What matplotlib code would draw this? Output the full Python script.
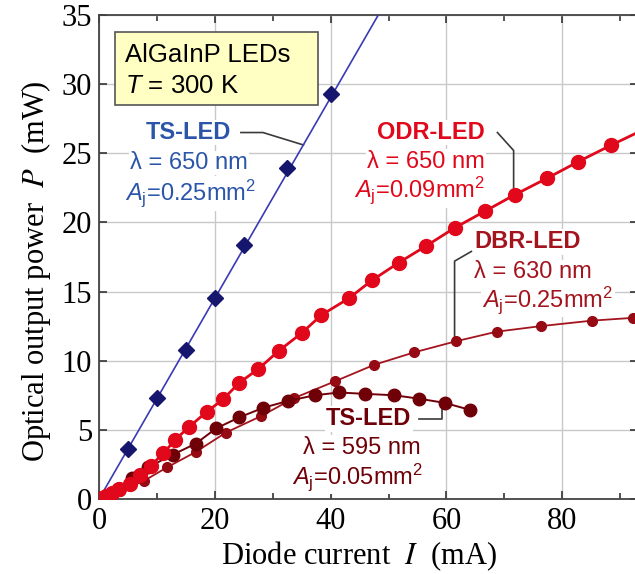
import matplotlib
matplotlib.use("Agg")
import matplotlib.pyplot as plt
from matplotlib.patches import Rectangle

plt.rcParams['mathtext.fontset'] = 'custom'
plt.rcParams['mathtext.rm'] = 'Liberation Sans'
plt.rcParams['mathtext.it'] = 'Liberation Sans:italic'
plt.rcParams['mathtext.bf'] = 'Liberation Sans:bold'

# TS-LED, 650 nm, Aj = 0.25 mm2 (diamonds)
ts650_i = [0, 5, 10, 15, 20, 25, 32.5, 40]
ts650_p = [0, 3.6, 7.3, 10.8, 14.5, 18.4, 23.9, 29.3]
# fitted line of the TS-LED 650 nm
ts650_fit_i = [0, 48.5]
ts650_fit_p = [0, 35.2]

# ODR-LED, 650 nm, Aj = 0.09 mm2
odr_i = [0, 0.5, 1.2, 2.2, 3.5, 5.4, 7.1, 8.9, 11.1, 13.2, 15.5, 18.6, 21.4, 24.2,
         27.5, 31.0, 35.0, 38.4, 43.1, 47.1, 51.8, 56.5, 61.4, 66.6, 71.8, 77.4,
         82.8, 88.5, 93.0]
odr_p = [0, 0.1, 0.25, 0.45, 0.7, 1.1, 1.7, 2.4, 3.3, 4.3, 5.2, 6.3, 7.2, 8.4,
         9.4, 10.7, 12.0, 13.3, 14.5, 15.8, 17.1, 18.3, 19.6, 20.8, 22.0, 23.2,
         24.4, 25.6, 26.5]

# DBR-LED, 630 nm, Aj = 0.25 mm2
dbr_i = [0, 3.7, 7.7, 11.8, 16.7, 21.9, 28.0, 33.7, 40.7, 47.5, 54.4, 61.6, 68.7,
         76.3, 85.2, 92.3, 93.0]
dbr_p = [0, 0.6, 1.3, 2.3, 3.4, 4.8, 6.0, 7.3, 8.5, 9.7, 10.6, 11.4, 12.1, 12.5,
         12.9, 13.1, 13.1]

# TS-LED, 595 nm, Aj = 0.05 mm2
ts595_i = [0, 3.3, 5.7, 8.5, 12.7, 16.7, 20.2, 24.2, 28.4, 32.7, 37.3, 41.4, 46.0,
           51.0, 55.3, 59.7, 64.0]
ts595_p = [0, 0.75, 1.5, 2.3, 3.2, 4.0, 5.1, 5.9, 6.6, 7.1, 7.5, 7.7, 7.6, 7.5,
           7.25, 6.95, 6.45]

c_blue_line = '#3a3ab4'
c_blue_mark = '#16166e'
c_blue_text = '#2b55a8'
c_odr = '#e0081a'
c_dbr = '#a3141e'
c_dbr_mark = '#960a14'
c_ts595 = '#700008'
c_lead = '#3a3a3a'

fig = plt.figure(figsize=(6.35, 5.74), dpi=100)
ax = fig.add_axes([0.156, 0.1307, 0.848, 0.8432])

ax.plot(ts650_fit_i, ts650_fit_p, color=c_blue_line, lw=1.2, zorder=3)
ax.plot(ts650_i[1:], ts650_p[1:], 'D', color=c_blue_mark, ms=8.5, zorder=4)

ax.plot(dbr_i, dbr_p, '-o', color=c_dbr, mfc=c_dbr_mark, mec=c_dbr_mark, ms=7,
        lw=1.3, zorder=3)
ax.plot(ts595_i, ts595_p, '-o', color=c_ts595, ms=9, lw=1.4, zorder=3)
ax.plot(odr_i[:-1], odr_p[:-1], 'o', color=c_odr, ms=10, zorder=4)
ax.plot(odr_i, odr_p, '-', color=c_odr, lw=2, zorder=4)

ax.set_xlim(0, 93)
ax.set_ylim(0, 35)
ax.set_xticks([0, 20, 40, 60, 80])
ax.set_xticks([10, 30, 50, 70, 90], minor=True)
ax.set_yticks([0, 5, 10, 15, 20, 25, 30, 35])
ax.grid(True, which='major', color='#c8c8c8', lw=1)
ax.set_axisbelow(True)
ax.tick_params(which='both', direction='in', top=True, right=True,
               width=1.2, color='#333333')
ax.tick_params(which='major', length=6)
ax.tick_params(which='minor', length=4)
ax.tick_params(axis='y', pad=5)
ax.tick_params(axis='x', pad=6)
for lbl in ax.get_xticklabels() + ax.get_yticklabels():
    lbl.set_fontfamily('Liberation Serif')
    lbl.set_fontsize(22)
for sp in ax.spines.values():
    sp.set_color('#444444')
    sp.set_linewidth(1.3)

xl = ax.set_xlabel(r'Diode current  $I$  (mA)', fontfamily='Liberation Serif',
                   fontsize=22, labelpad=2)
xl.set_math_fontfamily('stix')
xl.set_x(0.483)
yl = ax.set_ylabel(r'Optical output power  $P$  (mW)', fontfamily='Liberation Serif',
                   fontsize=22, labelpad=6)
yl.set_math_fontfamily('stix')
yl.set_y(0.47)

# header box
ax.add_patch(Rectangle((2.8, 28.5), 35.0, 5.3, facecolor='#ffffc4',
                       edgecolor='#555555', lw=1.2, zorder=5))
ax.text(4.4, 32.1, 'AlGaInP LEDs', fontfamily='Liberation Sans', fontsize=18.5,
        va='center', ha='left', zorder=6)
ax.text(4.4, 29.9, r'$T$ = 300 K', fontfamily='Liberation Sans', fontsize=18.5,
        va='center', ha='left', zorder=6)

wbox = dict(facecolor='white', edgecolor='none', pad=1)


def label(x, y, s, color, ha='center', bold=False):
    ax.text(x, y, s, color=color, ha=ha, va='center', fontsize=17,
            fontfamily='Liberation Sans', fontweight='bold' if bold else 'normal',
            bbox=wbox, zorder=2.5)


# TS-LED 650 nm
label(15.5, 26.5, 'TS-LED', c_blue_text, bold=True)
label(15.5, 24.3, 'λ = 650 nm', c_blue_text)
label(15.8, 22.1, r'$A_\mathrm{j}$=0.25mm$^2$', c_blue_text)
ax.plot([24.5, 28.3, 35.3], [26.5, 26.5, 25.6], color=c_lead, lw=1.2, zorder=2.6)

# ODR-LED
label(66.6, 26.5, 'ODR-LED', c_odr, ha='right', bold=True)
label(66.6, 24.4, 'λ = 650 nm', c_odr, ha='right')
label(66.6, 22.3, r'$A_\mathrm{j}$=0.09mm$^2$', c_odr, ha='right')
ax.plot([68.8, 71.6, 71.6], [26.5, 25.2, 22.0], color=c_lead, lw=1.2, zorder=2.6)

# DBR-LED
label(64.8, 18.6, 'DBR-LED', c_dbr, ha='left', bold=True)
label(64.8, 16.4, 'λ = 630 nm', c_dbr, ha='left')
label(66.2, 14.4, r'$A_\mathrm{j}$=0.25mm$^2$', c_dbr, ha='left')
ax.plot([64.3, 61.4, 61.4], [17.9, 17.2, 11.4], color=c_lead, lw=1.2, zorder=2.6)

# TS-LED 595 nm
label(46.6, 5.8, 'TS-LED', c_ts595, bold=True)
label(45.3, 3.7, 'λ = 595 nm', c_ts595)
label(44.7, 1.6, r'$A_\mathrm{j}$=0.05mm$^2$', c_ts595)
ax.plot([55.2, 59.3, 59.3], [5.8, 5.8, 6.5], color=c_lead, lw=1.2, zorder=2.6)

fig.savefig('out.png', dpi=100)
